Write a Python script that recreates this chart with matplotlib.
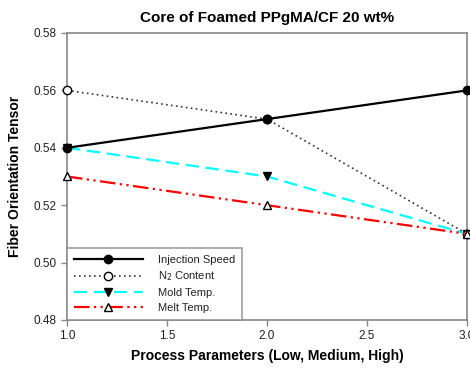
import matplotlib
matplotlib.use("Agg")
import matplotlib.pyplot as plt

plt.rcParams['font.family'] = ['Liberation Sans', 'DejaVu Sans']

# process levels (low, medium, high)
levels = [1.0, 2.0, 3.0]
injection_speed = [0.54, 0.55, 0.56]
n2_content = [0.56, 0.55, 0.51]
mold_temp = [0.54, 0.53, 0.51]
melt_temp = [0.53, 0.52, 0.51]

x_ticks = [1.0, 1.5, 2.0, 2.5, 3.0]
y_ticks = [0.48, 0.50, 0.52, 0.54, 0.56, 0.58]

fig = plt.figure(figsize=(4.7, 3.72), dpi=100)
ax = fig.add_axes([0.1426, 0.1398, 0.851, 0.7715])

ax.plot(levels, injection_speed, color='black', lw=1.6, marker='o', ms=6,
        mfc='black', mec='black', label='Injection Speed', clip_on=False, zorder=5)
ax.plot(levels, n2_content, color='#333333', lw=1.2, ls=(0, (1, 2)), marker='o', ms=6,
        mfc='white', mec='black', label='N$_2$ Content', clip_on=False, zorder=4)
ax.plot(levels, mold_temp, color='cyan', lw=1.6, ls=(0, (6, 3)), marker='v', ms=6,
        mfc='black', mec='black', label='Mold Temp.', clip_on=False, zorder=3)
ax.plot(levels, melt_temp, color='red', lw=1.6, ls=(0, (7, 2, 1, 2, 1, 2)), marker='^', ms=6,
        mfc='white', mec='black', label='Melt Temp.', clip_on=False, zorder=6)

ax.set_xlim(1.0, 3.0)
ax.set_ylim(0.48, 0.58)
ax.set_xticks(x_ticks)
ax.set_yticks(y_ticks)
ax.set_xticklabels([f"{v:.1f}" for v in x_ticks], fontsize=8.5, color='#222222')
ax.set_yticklabels([f"{v:.2f}" for v in y_ticks], fontsize=8.5, color='#222222')
ax.tick_params(direction='out', length=4, color='#888888', width=1)
for s in ax.spines.values():
    s.set_color('#888888')
    s.set_linewidth(1.2)

ax.set_title('Core of Foamed PPgMA/CF 20 wt%', fontsize=11, fontweight='bold', pad=8)
ax.set_xlabel('Process Parameters (Low, Medium, High)', fontsize=10, fontweight='bold', labelpad=5)
ax.set_ylabel('Fiber Orientation Tensor', fontsize=10, fontweight='bold', labelpad=8)

leg = ax.legend(loc='lower left', bbox_to_anchor=(0.0, 0.0), fontsize=8, frameon=True,
                fancybox=False, edgecolor='#888888', handlelength=6.2, borderaxespad=0,
                labelspacing=0.45, borderpad=0.6, handletextpad=1.4)
leg.get_frame().set_linewidth(1.2)
for t in leg.get_texts():
    t.set_color('#222222')

fig.savefig('out.png', dpi=100)
